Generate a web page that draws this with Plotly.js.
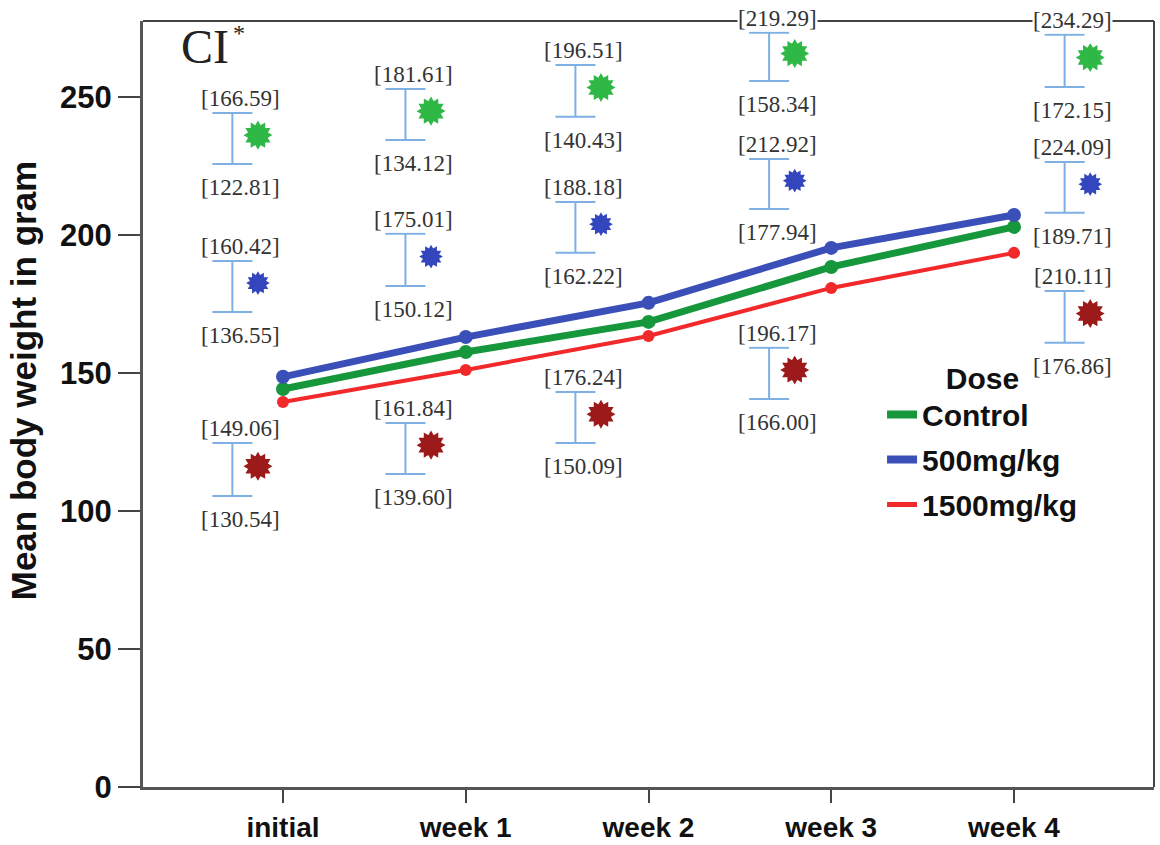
<!DOCTYPE html>
<html>
<head>
<meta charset="utf-8">
<script src="https://cdn.plot.ly/plotly-3.0.1.min.js"></script>
<style>html,body{margin:0;padding:0;background:#fff;}#chart{width:1160px;height:845px;}</style>
</head>
<body>
<div id="chart"></div>
<script>
// ---------- data ----------
const categories = ['initial', 'week 1', 'week 2', 'week 3', 'week 4'];
const seriesNames = ['Control', '500mg/kg', '1500mg/kg'];

const controlMean = [144.2, 157.6, 168.5, 188.4, 202.9];
const dose500Mean = [148.6, 163.0, 175.4, 195.3, 207.2];
const dose1500Mean = [139.5, 151.1, 163.4, 180.8, 193.5];

// 95% CI values printed on the chart
const controlLower = [122.81, 134.12, 140.43, 158.34, 172.15];
const controlUpper = [166.59, 181.61, 196.51, 219.29, 234.29];
const dose500Lower = [136.55, 150.12, 162.22, 177.94, 189.71];
const dose500Upper = [160.42, 175.01, 188.18, 212.92, 224.09];
const dose1500Lower = [130.54, 139.60, 150.09, 166.00, 176.86];
const dose1500Upper = [149.06, 161.84, 176.24, 196.17, 210.11];

// where the CI boxes are drawn on the chart
const ciBoxX = [-0.277, 0.67, 1.60, 2.66, 4.277];
const controlBoxTop = [244.2, 252.9, 261.6, 273.2, 272.5];
const controlBoxBottom = [225.7, 234.4, 242.8, 255.8, 253.6];
const dose500BoxTop = [190.6, 200.4, 211.9, 227.5, 226.4];
const dose500BoxBottom = [172.1, 181.5, 193.5, 209.4, 208.0];
const dose1500BoxTop = [124.6, 131.9, 143.1, 159.1, 179.7];
const dose1500BoxBottom = [105.4, 113.4, 124.6, 140.6, 160.9];

const yTicks = [0, 50, 100, 150, 200, 250];

// ---------- styling ----------
const lineColors = ['#16973c', '#3a4fb8', '#f2292b'];
const lineWidths = [7, 7, 4];
const markerSizes = [14, 14, 12];
const starColors = ['#2fb846', '#3346bd', '#9c1a1a'];
const starSizes = [22, 18, 22];
const ciColor = '#7fb0e3';
const labelFont = {family: 'Liberation Serif, Times New Roman, serif', size: 23, color: '#333'};
const boldFont = {family: 'Liberation Sans, Arial, sans-serif', weight: 'bold', color: '#111'};

const xIdx = categories.map((c, i) => i);
const means = [controlMean, dose500Mean, dose1500Mean];
const lowers = [controlLower, dose500Lower, dose1500Lower];
const uppers = [controlUpper, dose500Upper, dose1500Upper];
const tops = [controlBoxTop, dose500BoxTop, dose1500BoxTop];
const bottoms = [controlBoxBottom, dose500BoxBottom, dose1500BoxBottom];

const traces = [];
const annotations = [];

// CI boxes, stars and labels
for (let s = 0; s < 3; s++) {
  const centers = tops[s].map((t, i) => (t + bottoms[s][i]) / 2);
  const halves = tops[s].map((t, i) => (t - bottoms[s][i]) / 2);
  traces.push({
    type: 'scatter', mode: 'markers', x: ciBoxX, y: centers,
    marker: {size: 1, opacity: 0},
    error_y: {type: 'data', symmetric: true, array: halves, color: ciColor, thickness: 2, width: 20},
    showlegend: false, hoverinfo: 'skip'
  });
  [0, 30].forEach(ang => {
    traces.push({
      type: 'scatter', mode: 'markers',
      x: ciBoxX.map(v => v + 0.14), y: centers.map(v => v + 1.2),
      marker: {symbol: 'hexagram', size: starSizes[s], color: starColors[s], angle: ang, line: {width: 0}},
      showlegend: false, hoverinfo: 'skip'
    });
  });
  for (let i = 0; i < categories.length; i++) {
    annotations.push({
      x: ciBoxX[i], y: tops[s][i], xref: 'x', yref: 'y',
      text: '[' + uppers[s][i].toFixed(2) + ']', showarrow: false,
      xanchor: 'center', yanchor: 'bottom', xshift: 8, yshift: 1,
      font: labelFont, bgcolor: '#fff', borderpad: 0
    });
    annotations.push({
      x: ciBoxX[i], y: bottoms[s][i], xref: 'x', yref: 'y',
      text: '[' + lowers[s][i].toFixed(2) + ']', showarrow: false,
      xanchor: 'center', yanchor: 'top', xshift: 8, yshift: -10,
      font: labelFont, bgcolor: '#fff', borderpad: 0
    });
  }
}

// mean lines (red drawn first, blue on top)
[2, 0, 1].forEach(s => {
  traces.push({
    type: 'scatter', mode: 'lines+markers', x: xIdx, y: means[s],
    line: {color: lineColors[s], width: lineWidths[s]},
    marker: {color: lineColors[s], size: markerSizes[s]},
    showlegend: false, hoverinfo: 'x+y'
  });
});
// legend entries
[0, 1, 2].forEach(s => {
  traces.push({
    type: 'scatter', mode: 'lines', x: [null], y: [null], name: seriesNames[s],
    line: {color: lineColors[s], width: lineWidths[s] + 1}, legendgroup: 'g' + s
  });
});

annotations.push({
  xref: 'paper', yref: 'paper', x: 0.061, y: 0.967, text: 'CI', showarrow: false,
  xanchor: 'center', yanchor: 'middle',
  font: {family: 'Liberation Serif, Times New Roman, serif', size: 48, color: '#222'}
});
annotations.push({
  xref: 'paper', yref: 'paper', x: 0.0945, y: 0.984, text: '*', showarrow: false,
  xanchor: 'center', yanchor: 'middle',
  font: {family: 'Liberation Serif, Times New Roman, serif', size: 24, color: '#222'}
});
annotations.push({
  xref: 'paper', yref: 'paper', x: -0.1187, y: 0.531, text: 'Mean body weight in gram',
  showarrow: false, textangle: -90, xanchor: 'center', yanchor: 'middle',
  font: Object.assign({}, boldFont, {size: 35})
});

const layout = {
  width: 1160, height: 845,
  margin: {l: 143, r: 6, t: 21, b: 58},
  paper_bgcolor: '#fff', plot_bgcolor: '#fff',
  showlegend: true,
  xaxis: {
    range: [-0.766, 4.766], tickvals: xIdx, ticktext: categories,
    ticks: 'outside', ticklen: 13, tickwidth: 2, tickcolor: '#444',
    showline: true, linewidth: 3, linecolor: '#555',
    showgrid: false, zeroline: false,
    tickfont: Object.assign({}, boldFont, {size: 28})
  },
  yaxis: {
    range: [0, 277.5], tickvals: yTicks,
    ticks: 'outside', ticklen: 22, tickwidth: 2, tickcolor: '#444',
    showline: true, linewidth: 3, linecolor: '#555',
    showgrid: false, zeroline: false,
    tickfont: Object.assign({}, boldFont, {size: 31})
  },
  legend: {
    x: 0.731, y: 0.571, xanchor: 'left', yanchor: 'top',
    bgcolor: 'rgba(255,255,255,0)', traceorder: 'grouped', tracegroupgap: 3,
    font: Object.assign({}, boldFont, {size: 30}),
    title: {text: 'Dose', side: 'top center', font: Object.assign({}, boldFont, {size: 30})}
  },
  shapes: [
    {type: 'line', xref: 'paper', yref: 'paper', x0: 0, x1: 1, y0: 1, y1: 1, line: {color: '#444', width: 2}},
    {type: 'line', xref: 'paper', yref: 'paper', x0: 1, x1: 1, y0: 0, y1: 1, line: {color: '#444', width: 2}}
  ],
  annotations: annotations
};

Plotly.newPlot('chart', traces, layout, {displayModeBar: false, staticPlot: true});
</script>
</body>
</html>
